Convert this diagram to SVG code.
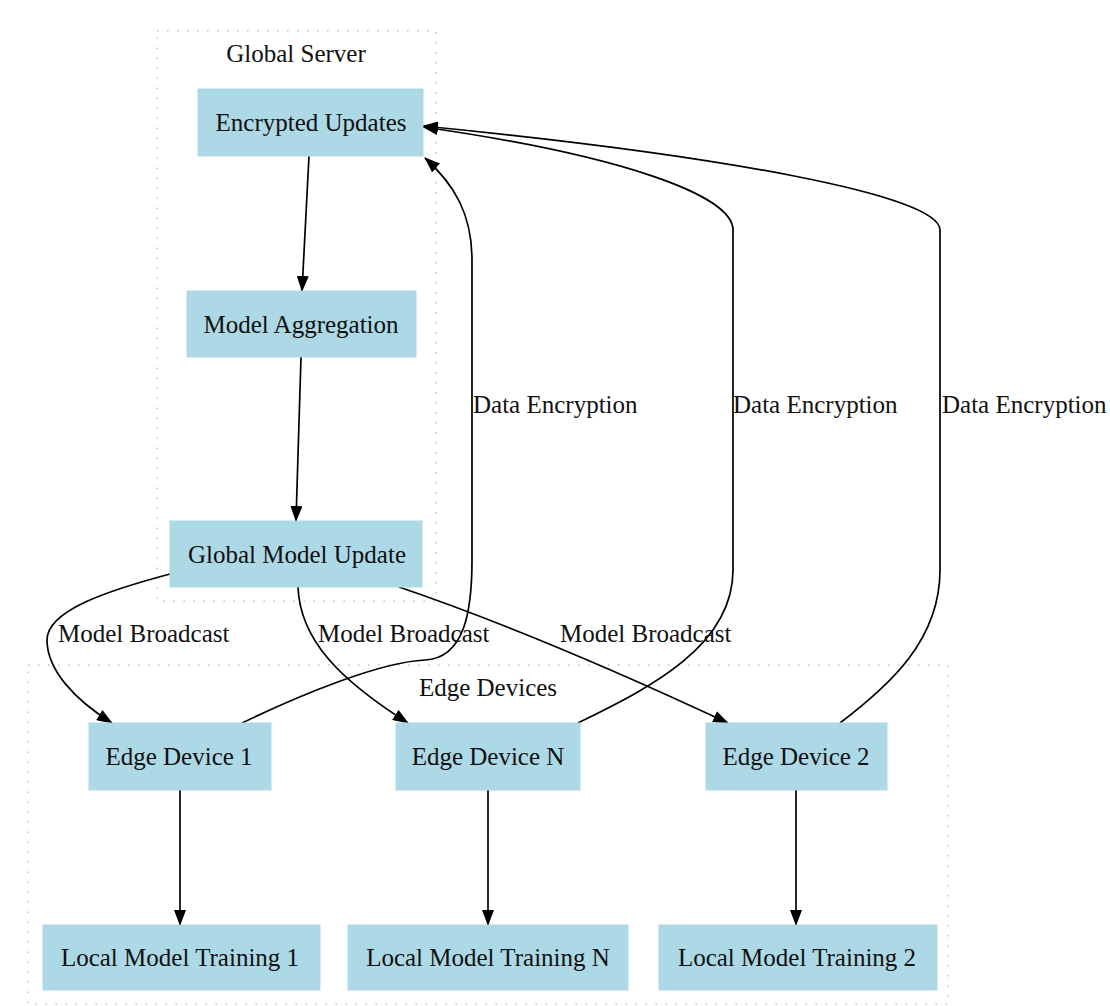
<svg xmlns="http://www.w3.org/2000/svg" width="1110" height="1006" viewBox="0 0 1110 1006">
<style>
  .cluster { fill: none; stroke: #c4c4c4; stroke-width: 1.5; stroke-dasharray: 1.5 8.5; }
  .node rect { fill: #add8e6; stroke: #add8e6; stroke-width: 1; }
  text { font-family: "Liberation Serif", "Times New Roman", serif; font-size: 25px; fill: #111; }
  .node text, .clabel { text-anchor: middle; }
  .edge { fill: none; stroke: #000; stroke-width: 1.7; marker-end: url(#arrow); }
</style>
<defs>
  <marker id="arrow" markerUnits="userSpaceOnUse" viewBox="0 0 16 12" markerWidth="16" markerHeight="12" refX="15" refY="6" orient="auto">
    <path d="M0,0 L16,6 L0,12 z" fill="#000"/>
  </marker>
</defs>
<rect width="1110" height="1006" fill="#fff"/>

<g id="cluster_global">
  <rect class="cluster" x="157" y="31" width="279" height="570"/>
  <text class="clabel" x="296" y="62">Global Server</text>
</g>
<g id="cluster_edge">
  <rect class="cluster" x="28" y="665" width="920" height="339"/>
  <text class="clabel" x="488" y="696">Edge Devices</text>
</g>

<g id="connectors">
  <path class="edge" d="M309,156 L302,291"/>
  <path class="edge" d="M301,357 L296,521"/>
  <path class="edge" d="M170,574 C110,590 47,610 47,640 C47,670 75,700 112,723"/>
  <path class="edge" d="M298,587 C300,640 340,680 408,723"/>
  <path class="edge" d="M399,587 Q540,635 728,723"/>
  <path class="edge" d="M242,723 C300,695 380,662 425,660 C465,658 472,610 472,560 L472,260 C472,215 455,185 425,158"/>
  <path class="edge" d="M578,723 C640,692 733,650 733,570 L733,230 C733,195 620,155 423,127"/>
  <path class="edge" d="M840,723 C890,685 940,640 940,570 L940,230 C940,195 720,155 423,126"/>
  <path class="edge" d="M180,790 L180,925"/>
  <path class="edge" d="M488,790 L488,925"/>
  <path class="edge" d="M796,790 L796,925"/>
  <text x="58" y="642">Model Broadcast</text>
  <text x="318" y="642">Model Broadcast</text>
  <text x="560" y="642">Model Broadcast</text>
  <text x="473" y="413">Data Encryption</text>
  <text x="733" y="413">Data Encryption</text>
  <text x="942" y="413">Data Encryption</text>
</g>

<g id="node_encrypted_updates" class="node">
  <rect x="198" y="89" width="225" height="67"/>
  <text x="311" y="131">Encrypted Updates</text>
</g>
<g id="node_model_aggregation" class="node">
  <rect x="187" y="291" width="229" height="66"/>
  <text x="301" y="333">Model Aggregation</text>
</g>
<g id="node_global_model_update" class="node">
  <rect x="170" y="521" width="252" height="66"/>
  <text x="297" y="563">Global Model Update</text>
</g>
<g id="node_edge_device_1" class="node">
  <rect x="89" y="723" width="182" height="67"/>
  <text x="179" y="765">Edge Device 1</text>
</g>
<g id="node_edge_device_n" class="node">
  <rect x="396" y="723" width="184" height="67"/>
  <text x="488" y="765">Edge Device N</text>
</g>
<g id="node_edge_device_2" class="node">
  <rect x="706" y="723" width="181" height="67"/>
  <text x="796" y="765">Edge Device 2</text>
</g>
<g id="node_local_training_1" class="node">
  <rect x="43" y="925" width="277" height="65"/>
  <text x="180" y="966">Local Model Training 1</text>
</g>
<g id="node_local_training_n" class="node">
  <rect x="348" y="925" width="280" height="65"/>
  <text x="488" y="966">Local Model Training N</text>
</g>
<g id="node_local_training_2" class="node">
  <rect x="659" y="925" width="278" height="65"/>
  <text x="797" y="966">Local Model Training 2</text>
</g>
</svg>
